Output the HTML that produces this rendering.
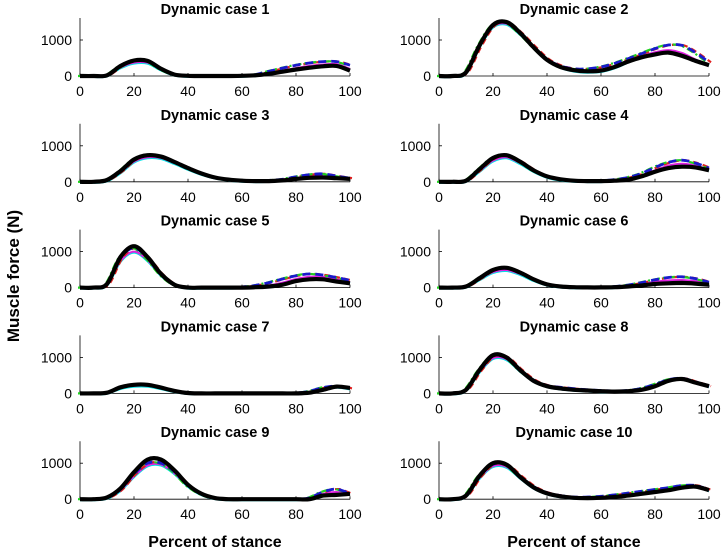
<!DOCTYPE html>
<html><head><meta charset="utf-8"><style>body{margin:0;background:#fff}svg{display:block}</style></head>
<body>
<svg id="chart" width="722" height="552" viewBox="0 0 722 552" font-family="Liberation Sans, sans-serif"></svg>
<script>
const xs=[0,5,10,15,20,25,30,35,40,45,50,55,60,65,70,75,80,85,90,95,100];
const titles=["Dynamic case 1","Dynamic case 2","Dynamic case 3","Dynamic case 4","Dynamic case 5","Dynamic case 6","Dynamic case 7","Dynamic case 8","Dynamic case 9","Dynamic case 10"];
const blackSeries=[
[0,0,20,280,430,420,200,40,5,0,0,0,5,20,60,120,180,230,270,280,150],
[0,0,100,850,1420,1500,1200,800,450,250,160,130,150,250,400,520,600,650,560,420,300],
[0,0,50,300,620,740,700,550,380,230,120,60,30,20,20,40,80,110,120,100,80],
[0,0,30,350,660,740,560,320,150,70,30,20,20,30,60,150,280,380,420,400,320],
[0,0,100,850,1150,850,380,80,0,0,0,0,0,10,30,80,180,230,230,170,120],
[0,0,30,260,490,550,420,230,90,30,10,5,5,10,30,60,100,120,130,110,80],
[0,0,20,170,240,240,160,70,10,0,0,0,0,0,0,0,0,20,100,190,150],
[0,0,100,650,1060,1000,650,350,200,140,100,80,60,50,60,100,200,350,400,300,200],
[0,0,50,300,750,1100,1100,800,400,150,30,0,0,0,0,0,0,0,100,120,150],
[0,0,100,650,1000,960,620,330,160,80,40,30,40,60,100,150,200,250,320,350,250]];
const blueSeries=[
[0,0,20,270,420,410,190,40,5,0,0,0,10,40,130,220,300,360,400,400,300],
[0,0,100,830,1400,1480,1200,820,470,280,200,200,250,350,480,620,760,860,850,650,380],
[0,0,50,290,610,730,690,550,380,230,120,60,30,25,40,70,140,200,220,160,100],
[0,0,30,340,650,730,560,320,150,70,30,20,30,60,120,230,400,540,600,520,380],
[0,0,90,820,1100,820,370,80,0,0,0,0,20,60,140,240,330,380,350,280,200],
[0,0,30,250,480,540,420,230,90,30,10,10,15,30,70,140,220,280,300,250,150],
[0,0,20,160,230,235,160,70,10,0,0,0,0,0,0,0,10,60,160,200,140],
[0,0,100,630,1040,1000,660,370,220,170,130,100,80,70,80,140,250,380,420,320,200],
[0,0,40,270,700,1000,1000,760,380,140,30,0,0,0,0,0,0,40,200,280,150],
[0,0,100,630,970,950,640,350,180,100,60,60,80,120,170,220,270,320,380,380,260]];
const magentaSeries=[
[0,0,18,240,370,370,180,35,5,0,0,0,5,25,80,150,220,280,320,330,200],
[0,0,90,810,1370,1450,1170,800,450,250,150,120,140,240,400,550,660,720,640,460,320],
[0,0,40,260,560,680,660,520,360,220,120,60,30,20,25,50,100,150,170,130,90],
[0,0,25,300,590,680,520,300,140,60,30,20,20,40,80,180,320,450,500,450,340],
[0,0,80,740,1000,760,350,80,0,0,0,0,5,20,60,140,240,300,300,230,150],
[0,0,25,230,430,490,380,210,85,30,10,5,5,15,45,100,160,200,210,180,110],
[0,0,18,150,210,215,145,65,10,0,0,0,0,0,0,0,10,40,130,190,140],
[0,0,90,600,980,950,630,350,200,140,100,80,60,55,70,120,220,360,410,310,200],
[0,0,40,250,640,940,960,720,370,140,30,0,0,0,0,0,0,20,150,200,150],
[0,0,90,590,920,900,600,320,160,80,40,35,50,80,120,170,220,270,330,360,250]];
const yTicks=[0,1000];
const xTicks=[0,20,40,60,80,100];

const NS="http://www.w3.org/2000/svg";
const svg=document.getElementById('chart');
function mk(tag,attrs,parent){const e=document.createElementNS(NS,tag);for(const k in attrs)e.setAttribute(k,attrs[k]);(parent||svg).appendChild(e);return e;}
function pathFrom(pts){let d="M"+pts[0][0]+","+pts[0][1];for(let i=0;i<pts.length-1;i++){const p0=pts[Math.max(0,i-1)],p1=pts[i],p2=pts[i+1],p3=pts[Math.min(pts.length-1,i+2)];const c1x=p1[0]+(p2[0]-p0[0])/6,c1y=p1[1]+(p2[1]-p0[1])/6,c2x=p2[0]-(p3[0]-p1[0])/6,c2y=p2[1]-(p3[1]-p1[1])/6;d+=` C${c1x.toFixed(1)},${c1y.toFixed(1)} ${c2x.toFixed(1)},${c2y.toFixed(1)} ${p2[0].toFixed(1)},${p2[1].toFixed(1)}`;}return d;}
for(let p=0;p<10;p++){
  const col=p%2,row=Math.floor(p/2);
  const x0=80+col*359,W=270,yb=76+row*105.8;
  const xS=v=>x0+v/100*W, yS=v=>yb-v*0.036;
  const g=mk('g',{});
  
  
  const t=mk('text',{x:x0+135,y:yb-62,'text-anchor':'middle','font-weight':'bold','font-size':14.5},g);
  t.textContent=titles[p];
  
  
  const ax=mk('path',{d:`M${x0},${yb-58}V${yb}H${x0+W}`,stroke:'#000',fill:'none','stroke-width':0.8},g);
  
  
  yTicks.forEach(v=>{const l=mk('text',{x:x0-8,y:yS(v)+5,'text-anchor':'end','font-size':14},g);l.textContent=v;
    
    
    mk('line',{x1:x0,x2:x0+3,y1:yS(v),y2:yS(v),stroke:'#000','stroke-width':0.8},g);});
  xTicks.forEach(v=>{const l=mk('text',{x:xS(v),y:yb+20,'text-anchor':'middle','font-size':14},g);l.textContent=v;
    
    
    mk('line',{x1:xS(v),x2:xS(v),y1:yb,y2:yb-3,stroke:'#000','stroke-width':0.8},g);});
  const mkLine=(arr,style,name)=>{const pts=xs.map((x,i)=>[xS(x),yS(arr[i])]);const e=mk('path',Object.assign({d:pathFrom(pts),fill:'none'},style),g);
    
    };
  mkLine(magentaSeries[p],{stroke:'#00e5e5','stroke-width':2,transform:'translate(0,1)'},'cyan-series');
  mkLine(magentaSeries[p],{stroke:'#e020e0','stroke-width':2},'magenta-series');
  mkLine(blueSeries[p],{stroke:'#e02020','stroke-width':2.2,'stroke-dasharray':'6,4',transform:'translate(2,0)'},'red-series');
  mkLine(blueSeries[p],{stroke:'#20d020','stroke-width':2.2,'stroke-dasharray':'7,3,2,3',transform:'translate(-2,0)'},'green-series');
  mkLine(blueSeries[p],{stroke:'#1a1acc','stroke-width':2.8,'stroke-dasharray':'8,5'},'blue-series');
  mkLine(blackSeries[p],{stroke:'#000','stroke-width':4.2,'stroke-linejoin':'round'},'black-series');
}
const yl=mk('text',{x:0,y:0,transform:'translate(19,276) rotate(-90)','text-anchor':'middle','font-weight':'bold','font-size':17});
yl.textContent='Muscle force (N)';


[215,574].forEach(cx=>{const l=mk('text',{x:cx,y:547,'text-anchor':'middle','font-weight':'bold','font-size':16});l.textContent='Percent of stance';
  
  });
</script>
</body></html>
